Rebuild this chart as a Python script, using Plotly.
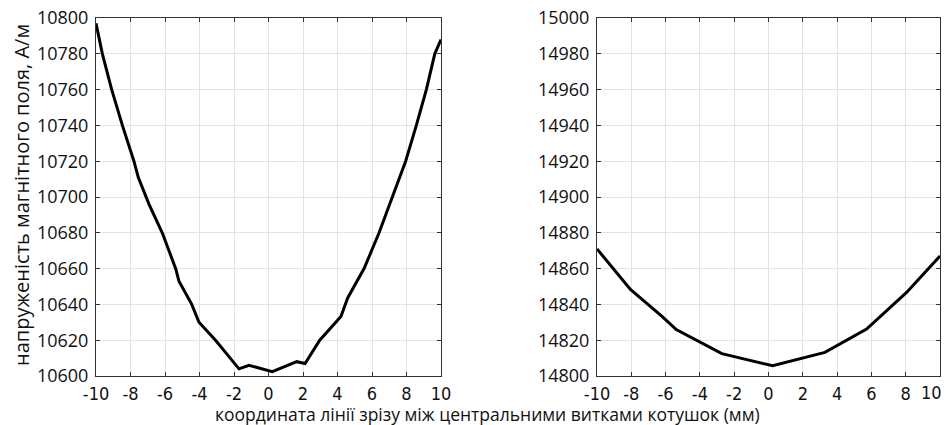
import plotly.graph_objects as go

# Left panel data (coordinate, mm ; field strength, A/m)
x_left = [-10.0, -9.63, -9.09, -8.47, -7.80, -7.55, -6.93, -6.16, -5.38, -5.19,
          -4.45, -4.03, -3.07, -1.71, -1.13, 0.22, 1.64, 2.12, 2.97, 4.2, 4.59,
          5.34, 5.54, 6.41, 7.2, 7.95, 8.57, 9.15, 9.64, 10.0]
y_left = [10797, 10780, 10760, 10740, 10720, 10711, 10696, 10680, 10660, 10653,
          10640, 10630, 10620, 10604, 10606, 10602.4, 10608, 10607, 10620, 10633.3, 10643.6,
          10656.6, 10660, 10680, 10700, 10720, 10740, 10760, 10780, 10788]

# Right panel data
x_right = [-10.0, -8.05, -6.21, -5.38, -2.72, 0.24, 3.29, 5.72, 8.05, 10.0]
y_right = [14871, 14848.4, 14833.3, 14825.9, 14812.5, 14805.7, 14813.2, 14826.2, 14846.7, 14867]

x_ticks = [-10, -8, -6, -4, -2, 0, 2, 4, 6, 8, 10]
x_ticktext = ["-10", "-8", "-6", "-4", "-2", "0", "2", "4", "6", "8", "10"]
y_ticks_left = list(range(10600, 10801, 20))
y_ticks_right = list(range(14800, 15001, 20))

y_title = "напруженість магнітного поля, А/м"
x_title = "координата лінії зрізу між центральними витками котушок (мм)"

W, H = 946, 425
fig = go.Figure()
fig.add_trace(go.Scatter(x=x_left, y=y_left, mode="lines",
                         line=dict(color="black", width=3), xaxis="x", yaxis="y",
                         showlegend=False))
fig.add_trace(go.Scatter(x=x_right, y=y_right, mode="lines",
                         line=dict(color="black", width=3), xaxis="x2", yaxis="y2",
                         showlegend=False))

ydom = [1 - 376 / H, 1 - 18 / H]
xfont = dict(family="Liberation Sans Narrow, DejaVu Sans Condensed, sans-serif", size=18, color="#111")
yfont = dict(family="Open Sans, sans-serif", size=18, color="#111")
common_x = dict(range=[-10, 10], tickvals=x_ticks, ticks="inside",
                ticklen=4, tickcolor="#333", showline=True, linecolor="#333", linewidth=1,
                mirror="ticks", showgrid=True, gridcolor="#e3e3e3", zeroline=False,
                tickfont=xfont, ticklabelstandoff=1, automargin=False,
                ticklabeloverflow="allow")
common_y = dict(ticks="inside", ticklen=4, tickcolor="#333", showline=True,
                linecolor="#333", linewidth=1, mirror="ticks", showgrid=True,
                gridcolor="#e3e3e3", zeroline=False, tickfont=yfont, domain=ydom,
                tickformat="d", ticklabelstandoff=3, automargin=False)

# right panel: last label drawn right-aligned at its tick so it stays inside the page
right_ticktext = x_ticktext[:-1] + [""]

fig.update_layout(
    template="none",
    width=W, height=H,
    margin=dict(l=0, r=0, t=0, b=0, pad=0),
    paper_bgcolor="white", plot_bgcolor="white",
    xaxis=dict(domain=[96 / W, 441 / W], anchor="y", ticktext=x_ticktext, **common_x),
    yaxis=dict(range=[10600, 10800], tickvals=y_ticks_left, anchor="x", **common_y),
    xaxis2=dict(domain=[597 / W, 940 / W], anchor="y2", ticktext=right_ticktext, **common_x),
    yaxis2=dict(range=[14800, 15000], tickvals=y_ticks_right, anchor="x2", **common_y),
    annotations=[
        dict(text=y_title, x=22 / W, y=1 - 195 / H, xref="paper", yref="paper",
             textangle=-90, showarrow=False, xanchor="center", yanchor="middle",
             font=dict(family="Open Sans, sans-serif", size=20, color="#111")),
        dict(text=x_title, x=488 / W, y=1 - 414 / H, xref="paper", yref="paper",
             showarrow=False, xanchor="center", yanchor="middle",
             font=dict(family="Open Sans, sans-serif", size=17.5, color="#111")),
        dict(text=x_ticktext[-1], x=x_ticks[-1], xref="x2", y=1 - 392 / H, yref="paper",
             showarrow=False, xanchor="right", yanchor="middle", xshift=4,
             font=xfont),
    ],
)

fig.write_html("out.html")
